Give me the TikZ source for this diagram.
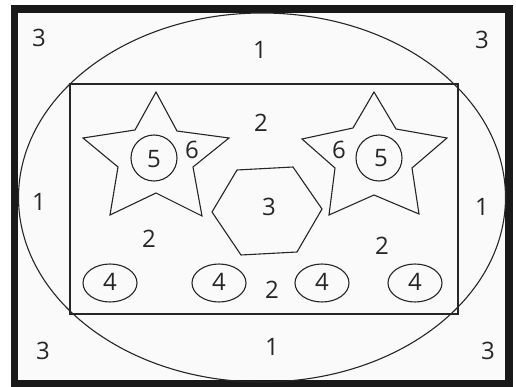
\documentclass[tikz,border=0pt]{standalone}
\usepackage{fontspec}
\setmainfont{Open Sans}
\begin{document}
\begin{tikzpicture}[x=1pt,y=-1pt,
  thin line/.style={draw=black!85, line width=1.1pt},
  lbl/.style={font=\fontsize{24}{24}\selectfont, text=black!85, inner sep=0pt}]
\useasboundingbox (0,0) rectangle (516,387);
\fill[white] (0,0) rectangle (516,387);
\fill[black!2] (14.5,9) rectangle (509,384);
% outer frame
\draw[line width=7.5pt, black!90] (14.5,9) rectangle (509,384);
% ellipse
\draw[thin line] (262,197.5) ellipse [x radius=243.5, y radius=184.5];
% rectangle
\draw[thin line] (70,84) rectangle (458,314);
% left star
\draw[thin line] (156,92) -- (177,131) -- (229,138) -- (193,167) -- (202,216) -- (156,193) -- (110,215) -- (118,167) -- (83,138) -- (135,130) -- cycle;
% right star
\draw[thin line] (374,92) -- (396,129) -- (447,138) -- (412,168) -- (419,214) -- (374,195) -- (329,215) -- (335,168) -- (302,139) -- (353,128) -- cycle;
% circles 5
\draw[thin line] (154,158) circle [radius=23];
\draw[thin line] (379,158) circle [radius=23];
% hexagon
\draw[thin line] (237,170) -- (293,167) -- (322,209) -- (297,252) -- (241,255) -- (212,212) -- cycle;
% ellipses 4
\foreach \cx in {110,219,322,415} {
  \draw[thin line] (\cx,283) ellipse [x radius=27, y radius=19];
}
% labels
\node[lbl] (t3a) at (39,38) {3};
\node[lbl] (t3b) at (482,40) {3};
\node[lbl] (t1a) at (260,50) {1};
\node[lbl] (t2a) at (261,123) {2};
\node[lbl] (t1b) at (39,202) {1};
\node[lbl] (t1c) at (482,207) {1};
\node[lbl] (t5a) at (154,159) {5};
\node[lbl] (t6a) at (192,150) {6};
\node[lbl] (t5b) at (381,158) {5};
\node[lbl] (t6b) at (339,150) {6};
\node[lbl] (t3c) at (269,207) {3};
\node[lbl] (t2b) at (149,239) {2};
\node[lbl] (t2c) at (382,246) {2};
\node[lbl] (t2d) at (272,290) {2};
\node[lbl] (t4a) at (110,282) {4};
\node[lbl] (t4b) at (219,282) {4};
\node[lbl] (t4c) at (322,282) {4};
\node[lbl] (t4d) at (415,282) {4};
\node[lbl] (t3d) at (43,351) {3};
\node[lbl] (t1d) at (272,347) {1};
\node[lbl] (t3e) at (488,351) {3};
\end{tikzpicture}
\end{document}
